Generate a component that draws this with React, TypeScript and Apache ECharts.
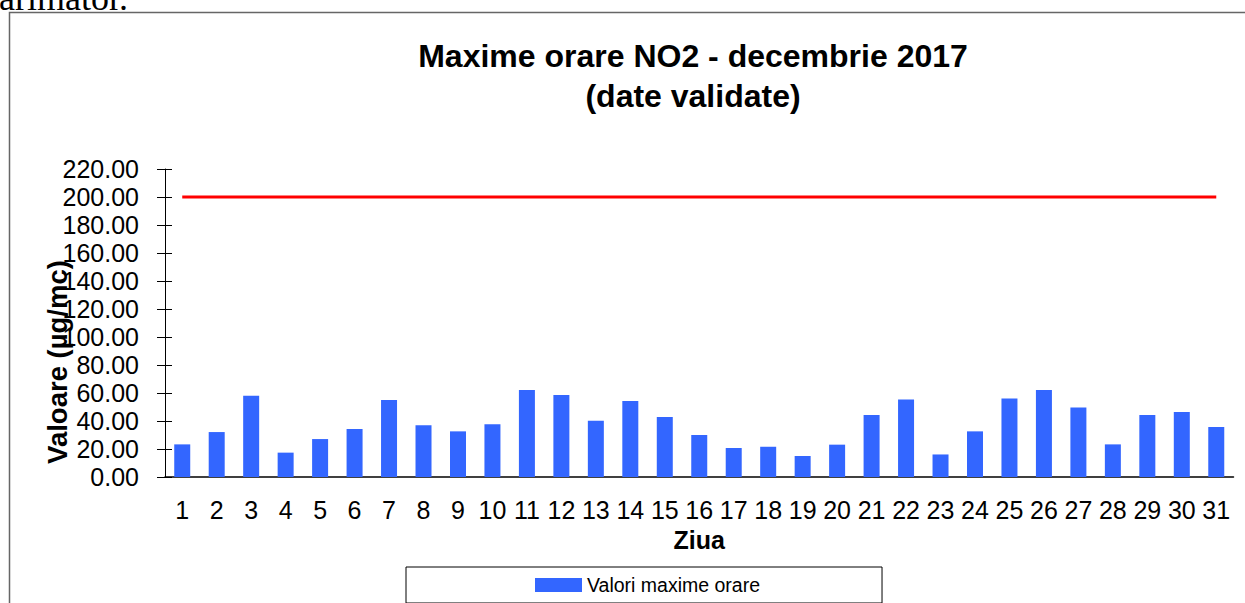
import React, { useEffect, useRef } from "react";
import * as echarts from "echarts";

const days: string[] = [
  "1", "2", "3", "4", "5", "6", "7", "8", "9", "10", "11", "12", "13", "14", "15", "16",
  "17", "18", "19", "20", "21", "22", "23", "24", "25", "26", "27", "28", "29", "30", "31",
];
const maxValues: number[] = [
  23.3, 32.1, 58.1, 17.4, 27.1, 34.3, 55.0, 36.9, 32.6, 37.6, 62.1, 58.6, 40.2, 54.3, 42.9, 30.0,
  20.7, 21.6, 15.0, 23.1, 44.3, 55.4, 16.1, 32.6, 56.1, 62.1, 49.7, 23.3, 44.3, 46.4, 35.7,
];
const limitValues: number[] = days.map(() => 200);
const titleLines: string[] = ["Maxime orare NO2 - decembrie 2017", "(date validate)"];
const seriesName = "Valori maxime orare";
const yName = "Valoare (µg/mc)";
const xName = "Ziua";

export default function App() {
  const ref = useRef<HTMLDivElement>(null);
  useEffect(() => {
    if (!ref.current) return;
    const chart = echarts.init(ref.current, null, { renderer: "svg" });
    const font = "Arial, 'Liberation Sans', sans-serif";
    chart.setOption({
      animation: false,
      backgroundColor: "transparent",
      textStyle: { fontFamily: font },
      graphic: [
        {
          type: "rect",
          shape: { x: 9.5, y: 12.5, width: 1400, height: 800 },
          style: { fill: "none", stroke: "#666", lineWidth: 1.5 },
          silent: true,
        },
        {
          type: "text",
          x: 693,
          y: 36,
          style: {
            text: titleLines.join("\n"),
            fontFamily: font,
            fontWeight: "bold",
            fontSize: 32,
            lineHeight: 40,
            align: "center",
            verticalAlign: "top",
            fill: "#000",
          },
        },
        {
          type: "text",
          x: 57,
          y: 362,
          rotation: Math.PI / 2,
          style: {
            text: yName,
            fontFamily: font,
            fontWeight: "bold",
            fontSize: 27.5,
            align: "center",
            verticalAlign: "middle",
            fill: "#000",
          },
        },
      ],
      legend: {
        data: [seriesName],
        left: 406,
        top: 567,
        padding: [8, 122, 8, 129],
        borderColor: "#000",
        borderWidth: 1,
        itemWidth: 47,
        itemHeight: 14,
        icon: "rect",
        textStyle: { fontFamily: font, fontSize: 19.5, color: "#000" },
      },
      grid: { left: 165, right: 11.5, top: 169, bottom: 126, containLabel: false },
      xAxis: {
        type: "category",
        data: days,
        boundaryGap: true,
        name: xName,
        nameLocation: "middle",
        nameGap: 50,
        nameTextStyle: { fontFamily: font, fontWeight: "bold", fontSize: 25, color: "#000" },
        axisLine: { lineStyle: { color: "#000", width: 1.5 } },
        axisTick: { show: false },
        axisLabel: { interval: 0, fontFamily: font, fontSize: 25, color: "#000", margin: 20 },
      },
      yAxis: [
        {
          type: "value",
          min: 0,
          max: 220,
          interval: 20,
          axisLine: { show: true, lineStyle: { color: "#000", width: 1 } },
          axisTick: { show: true, inside: false, length: 8, lineStyle: { color: "#000" } },
          axisLabel: {
            fontFamily: font,
            fontSize: 25,
            color: "#000",
            margin: 26,
            formatter: (v: number) => v.toFixed(2),
          },
          splitLine: { show: false },
        },
        {
          type: "value",
          min: 0,
          max: 220,
          interval: 20,
          position: "left",
          axisLine: { show: false },
          axisTick: { show: true, inside: true, length: 7, lineStyle: { color: "#000" } },
          axisLabel: { show: false },
          splitLine: { show: false },
        },
      ],
      series: [
        {
          name: seriesName,
          type: "bar",
          data: maxValues,
          barWidth: 16,
          itemStyle: { color: "#3366FF" },
        },
        {
          name: "Valoare limită",
          type: "line",
          data: limitValues,
          symbol: "none",
          lineStyle: { color: "#FF0000", width: 3 },
          itemStyle: { color: "#FF0000" },
        },
      ],
    });
    return () => chart.dispose();
  }, []);
  return (
    <div style={{ position: "fixed", left: 0, top: 0, width: 1245, height: 603, overflow: "hidden", background: "#fff" }}>
      <div
        style={{
          position: "absolute",
          left: -1,
          top: -20,
          fontFamily: "'Liberation Serif', 'Times New Roman', serif",
          fontSize: 36,
          lineHeight: "36px",
          color: "#000",
          whiteSpace: "nowrap",
        }}
      >
        arimator.
      </div>
      <div ref={ref} style={{ position: "absolute", left: 0, top: 0, width: 1245, height: 603 }} />
    </div>
  );
}
